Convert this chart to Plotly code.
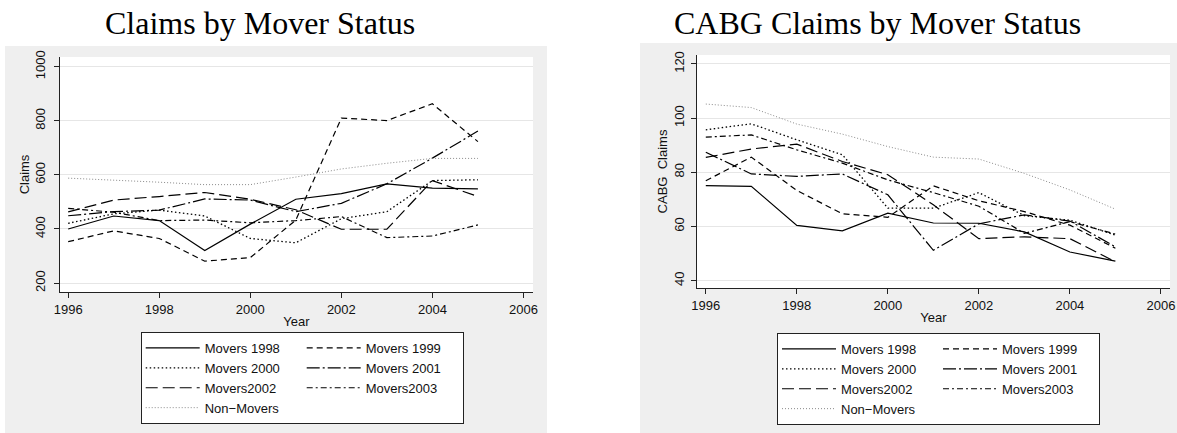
import plotly.graph_objects as go

# ---------------- data ----------------
years = [1996, 1997, 1998, 1999, 2000, 2001, 2002, 2003, 2004, 2005]

series_names = ["Movers 1998", "Movers 1999", "Movers 2000", "Movers 2001",
                "Movers2002", "Movers2003", "Non\u2212Movers"]

# Panel 1: Claims
claims_m1998 = [400, 448, 431, 320, 418, 510, 531, 567, 551, 548]
claims_m1999 = [353, 393, 365, 281, 294, 433, 810, 801, 863, 723]
claims_m2000 = [421, 456, 470, 448, 365, 349, 438, 464, 579, 582]
claims_m2001 = [449, 464, 470, 511, 507, 464, 495, 567, 662, 762]
claims_m2002 = [463, 507, 520, 535, 510, 471, 399, 399, 579, 520]
claims_m2003 = [476, 462, 431, 433, 423, 431, 446, 368, 374, 415]
claims_non = [588, 581, 573, 564, 564, 592, 622, 643, 661, 661]

# Panel 2: CABG claims
cabg_m1998 = [75.1, 74.8, 60.4, 58.4, 64.9, 61.3, 61.2, 58.0, 50.6, 47.2]
cabg_m1999 = [76.9, 85.6, 73.3, 64.7, 63.4, 75.0, 69.5, 65.5, 60.5, 52.0]
cabg_m2000 = [95.7, 97.9, 92.0, 86.5, 66.8, 66.8, 72.5, 64.0, 62.3, 56.8]
cabg_m2001 = [87.4, 79.4, 78.5, 79.4, 71.7, 51.2, 61.0, 64.3, 62.0, 52.5]
cabg_m2002 = [85.5, 88.6, 90.4, 84.0, 79.1, 68.0, 55.5, 56.2, 55.5, 47.0]
cabg_m2003 = [93.0, 93.8, 88.3, 83.4, 77.2, 72.5, 67.5, 57.5, 61.8, 57.2]
cabg_non = [105.2, 103.9, 97.8, 94.1, 89.5, 85.6, 84.9, 79.6, 73.5, 66.4]

x_ticks = [1996, 1998, 2000, 2002, 2004, 2006]
claims_ticks = [200, 400, 600, 800, 1000]
cabg_ticks = [40, 60, 80, 100, 120]

titles = ["Claims by Mover Status", "CABG Claims by Mover Status"]
y_titles = ["Claims", "CABG  Claims"]
x_title = "Year"

# ---------------- styling ----------------
W, H = 1177, 433
FONT = "Liberation Sans"
SERIF = "Liberation Serif"

styles = [
    dict(color="#000000", width=1.2, dash="solid"),
    dict(color="#000000", width=1.2, dash="6px,4px"),
    dict(color="#000000", width=1.3, dash="1.5px,2.5px"),
    dict(color="#000000", width=1.2, dash="13px,3px,2px,3px"),
    dict(color="#000000", width=1.2, dash="12px,5px"),
    dict(color="#000000", width=1.2, dash="6px,3px,2px,3px"),
    dict(color="#8a8a8a", width=1.0, dash="1px,2px"),
]
groups = ["a", "b", "a", "b", "a", "b", "a"]


def px(x):
    return x / W


def py(y):
    return 1 - y / H


fig = go.Figure()

panels = [
    (claims_m1998, claims_m1999, claims_m2000, claims_m2001, claims_m2002, claims_m2003, claims_non),
    (cabg_m1998, cabg_m1999, cabg_m2000, cabg_m2001, cabg_m2002, cabg_m2003, cabg_non),
]
for p, data in enumerate(panels):
    ax = "" if p == 0 else "2"
    leg = "legend" if p == 0 else "legend2"
    for i, vals in enumerate(data):
        fig.add_trace(go.Scatter(
            x=years, y=vals, mode="lines", name=series_names[i],
            line=styles[i], xaxis="x" + ax, yaxis="y" + ax,
            legend=leg, legendgroup=f"{p}{groups[i]}", hoverinfo="x+y+name",
        ))

axis_common = dict(
    showline=True, linecolor="#222222", linewidth=1,
    ticks="outside", ticklen=5, tickcolor="#222222", tickwidth=1,
    tickfont=dict(family=FONT, size=13, color="#111111"),
    zeroline=False, automargin=False,
)

# panel geometry (pixels)
L = dict(x0=60, x1=533, y0=57, y1=292)
R = dict(x0=696.7, x1=1170, y0=55, y1=288)

fig.update_layout(
    width=W, height=H,
    margin=dict(l=0, r=0, t=0, b=0),
    paper_bgcolor="white", plot_bgcolor="rgba(0,0,0,0)",
    showlegend=True,
    xaxis=dict(axis_common, domain=[px(L["x0"]), px(L["x1"])], range=[1995.82, 2006.21],
               tickvals=x_ticks, showgrid=False, anchor="y", ticklabelstandoff=0,
               title=dict(text=x_title, font=dict(family=FONT, size=13, color="#111"), standoff=1)),
    yaxis=dict(axis_common, domain=[py(L["y1"]), py(L["y0"])], range=[167, 1036],
               tickvals=claims_ticks, tickangle=-90, showgrid=True, gridcolor="#e6e6e6", gridwidth=1,
               anchor="x", ticklabelstandoff=4,
               title=dict(text=y_titles[0], font=dict(family=FONT, size=13, color="#111"), standoff=0)),
    xaxis2=dict(axis_common, domain=[px(R["x0"]), px(R["x1"])], range=[1995.80, 2006.2],
                tickvals=x_ticks, showgrid=False, anchor="y2", ticklabelstandoff=0,
                title=dict(text=x_title, font=dict(family=FONT, size=13, color="#111"), standoff=1)),
    yaxis2=dict(axis_common, domain=[py(R["y1"]), py(R["y0"])], range=[37.3, 123.3],
                tickvals=cabg_ticks, tickangle=-90, showgrid=True, gridcolor="#e6e6e6", gridwidth=1,
                anchor="x2", ticklabelstandoff=2,
                title=dict(text=y_titles[1], font=dict(family=FONT, size=13, color="#111"), standoff=0)),
)

legend_common = dict(
    orientation="h", traceorder="grouped", xanchor="left", yanchor="top",
    bgcolor="white", bordercolor="#222222", borderwidth=1,
    font=dict(family=FONT, size=13, color="#111111"),
    itemwidth=54, entrywidth=92, tracegroupgap=0, itemclick=False, itemdoubleclick=False,
)
fig.update_layout(
    legend=dict(legend_common, x=px(140.7), y=py(332)),
    legend2=dict(legend_common, x=px(777), y=py(333)),
)

# background panels (gray outer region, white plot region)
shapes = []
for (gx0, gx1, gy0, gy1), P in [((5, 547, 46, 433), L), ((640, 1177, 43, 433), R)]:
    shapes.append(dict(type="rect", xref="paper", yref="paper", layer="below",
                       x0=px(gx0), x1=px(gx1), y0=py(gy1), y1=py(gy0),
                       fillcolor="#efefef", line=dict(width=0)))
    shapes.append(dict(type="rect", xref="paper", yref="paper", layer="below",
                       x0=px(P["x0"]), x1=px(P["x1"]), y0=py(P["y1"]), y1=py(P["y0"]),
                       fillcolor="white", line=dict(width=0)))
fig.update_layout(shapes=shapes)

# panel titles
for cx, t in [(259.5, titles[0]), (877.5, titles[1])]:
    fig.add_annotation(text=t, x=px(cx), y=py(23), xref="paper", yref="paper",
                       xanchor="center", yanchor="middle", showarrow=False,
                       font=dict(family=SERIF, size=32, color="#000"))

fig.write_html("out.html", config={"displayModeBar": False},
               post_script="document.body.style.margin='0';")
